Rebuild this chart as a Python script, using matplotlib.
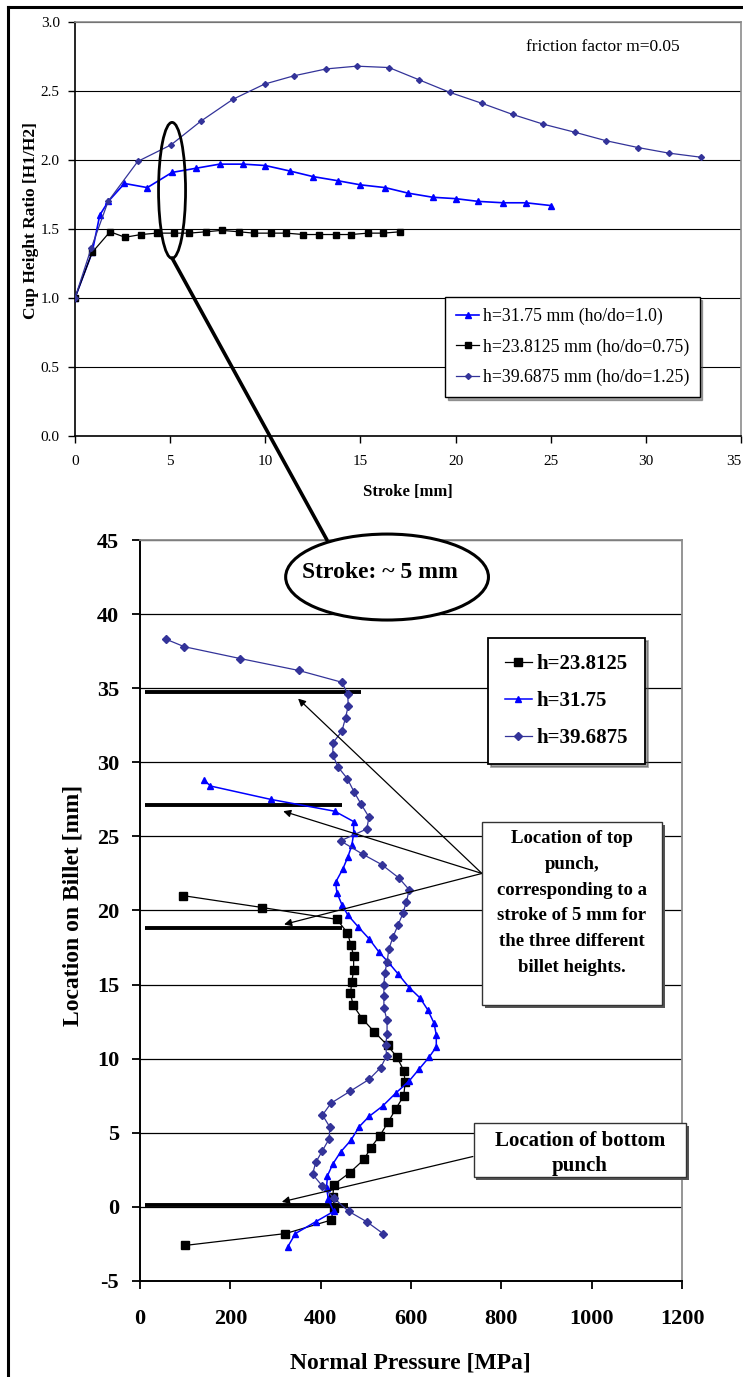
import numpy as np
import matplotlib.pyplot as plt
from matplotlib.patches import Ellipse, Rectangle, ConnectionPatch
from matplotlib.lines import Line2D

plt.rcParams['font.family'] = ['Liberation Serif', 'DejaVu Serif']
plt.rcParams['axes.unicode_minus'] = False

# ---- top chart data: cup height ratio vs stroke (friction factor m=0.05)
stroke_3175 = [0, 0.9, 1.3, 1.75, 2.6, 3.8, 5.1, 6.35, 7.6, 8.85, 10.0, 11.3, 12.5,
               13.8, 15.0, 16.3, 17.5, 18.8, 20.0, 21.2, 22.5, 23.7, 25.0]
ratio_3175 = [1.0, 1.33, 1.6, 1.70, 1.83, 1.80, 1.91, 1.94, 1.97, 1.97, 1.96, 1.92, 1.88,
              1.85, 1.82, 1.80, 1.76, 1.73, 1.72, 1.70, 1.69, 1.69, 1.67]
stroke_238 = [0, 0.9, 1.84, 2.63, 3.47, 4.3, 5.2, 6.0, 6.9, 7.7, 8.6, 9.4, 10.3, 11.1,
              12.0, 12.8, 13.7, 14.5, 15.4, 16.2, 17.1]
ratio_238 = [1.0, 1.33, 1.48, 1.44, 1.46, 1.47, 1.47, 1.47, 1.48, 1.49, 1.48, 1.47, 1.47,
             1.47, 1.46, 1.46, 1.46, 1.46, 1.47, 1.47, 1.48]
stroke_397 = [0, 0.85, 1.74, 3.3, 5.05, 6.6, 8.3, 9.96, 11.5, 13.2, 14.8, 16.5, 18.1,
              19.7, 21.4, 23.0, 24.6, 26.3, 27.9, 29.6, 31.2, 32.9]
ratio_397 = [1.0, 1.36, 1.70, 1.99, 2.11, 2.28, 2.44, 2.55, 2.61, 2.66, 2.68, 2.67, 2.58,
             2.49, 2.41, 2.33, 2.26, 2.20, 2.14, 2.09, 2.05, 2.02]

# ---- bottom chart data: normal pressure along billet at ~5 mm stroke
loc_238 = [21.0, 20.2, 19.4, 18.5, 17.7, 16.9, 16.0, 15.2, 14.4, 13.6, 12.7, 11.8, 10.9,
           10.1, 9.2, 8.4, 7.5, 6.6, 5.7, 4.8, 4.0, 3.2, 2.3, 1.5, 0.7, -0.1, -0.9, -1.8, -2.6]
pres_238 = [96, 271, 436, 459, 467, 473, 473, 469, 466, 472, 492, 519, 548,
            569, 584, 587, 584, 566, 549, 531, 511, 496, 464, 429, 427, 430, 422, 322, 100]
loc_3175 = [28.8, 28.4, 27.5, 26.7, 26.0, 25.2, 24.4, 23.6, 22.8, 21.9, 21.2, 20.4, 19.7,
            18.9, 18.1, 17.2, 16.5, 15.7, 14.8, 14.1, 13.3, 12.4, 11.6, 10.8, 10.1, 9.3,
            8.5, 7.7, 6.8, 6.1, 5.4, 4.5, 3.7, 2.9, 2.1, 1.3, 0.5, -0.3, -1.0, -1.8, -2.7]
pres_3175 = [142, 156, 289, 431, 473, 473, 469, 460, 449, 433, 436, 447, 460,
             483, 507, 529, 550, 572, 596, 620, 637, 651, 656, 656, 640, 618,
             596, 567, 537, 507, 485, 467, 444, 427, 415, 413, 417, 429, 389, 344, 327]
loc_397 = [38.3, 37.8, 37.0, 36.2, 35.4, 34.6, 33.8, 33.0, 32.1, 31.3, 30.5, 29.7, 28.9,
           28.0, 27.2, 26.3, 25.5, 24.7, 23.8, 23.1, 22.2, 21.4, 20.6, 19.8, 19.0, 18.2,
           17.4, 16.5, 15.8, 15.0, 14.2, 13.4, 12.6, 11.7, 10.9, 10.2, 9.4, 8.6, 7.8, 7.0,
           6.2, 5.4, 4.6, 3.8, 3.0, 2.2, 1.4, 0.6, -0.3, -1.0, -1.8]
pres_397 = [58, 98, 222, 351, 447, 460, 461, 455, 447, 427, 427, 438, 459,
            474, 489, 507, 502, 444, 493, 535, 573, 596, 590, 582, 571, 560,
            551, 547, 542, 540, 540, 540, 547, 547, 544, 546, 533, 507, 465, 423,
            404, 420, 419, 404, 389, 382, 404, 429, 462, 502, 538]

# punch positions (location, x start, x end)
punch_loc = [34.75, 27.1, 18.85, 0.15]
punch_x0 = [10, 10, 10, 10]
punch_x1 = [490, 448, 448, 460]

W, H = 743, 1377
fig = plt.figure(figsize=(W / 100, H / 100), dpi=100)

def rect(l, t, r, b):
    return [l / W, 1 - b / H, (r - l) / W, (b - t) / H]

def fpt(x, y):
    return (x / W, 1 - y / H)

DKBLUE = '#333399'
GRAY = '#8c8c8c'

# ================= top chart =================
ax1 = fig.add_axes(rect(75, 22, 741, 436))
ax1.plot(stroke_3175, ratio_3175, color='#0000ff', lw=1.2, marker='^', ms=4.5,
         label='h=31.75 mm (ho/do=1.0)', zorder=4)
ax1.plot(stroke_238, ratio_238, color='black', lw=0.9, marker='s', ms=4,
         label='h=23.8125 mm (ho/do=0.75)', zorder=4)
ax1.plot(stroke_397, ratio_397, color=DKBLUE, lw=0.9, marker='D', ms=3,
         label='h=39.6875 mm (ho/do=1.25)', zorder=4)
ax1.set_xlim(0, 35)
ax1.set_ylim(0, 3)
ax1.set_xticks(np.arange(0, 36, 5))
ax1.set_yticks(np.arange(0, 3.01, 0.5))
ax1.set_yticklabels(['%.1f' % v for v in np.arange(0, 3.01, 0.5)])
ax1.yaxis.grid(True, color='black', lw=0.8)
ax1.set_axisbelow(True)
for s in ['top', 'right']:
    ax1.spines[s].set_color(GRAY)
    ax1.spines[s].set_linewidth(1.2)
for s in ['left', 'bottom']:
    ax1.spines[s].set_linewidth(1.2)
ax1.tick_params(axis='both', direction='out', length=5, width=1, labelsize=11)
ax1.tick_params(axis='y', pad=6)
ax1.tick_params(axis='x', pad=9)
# last tick label sits at the figure edge
ax1.get_xticklabels()[-1].set_horizontalalignment('right')
leg1 = ax1.legend(loc='upper left', bbox_to_anchor=(0.556, 0.336), fontsize=12.8,
                  frameon=True, fancybox=False, shadow=True, borderpad=0.6,
                  labelspacing=0.75, handlelength=1.3, handletextpad=0.2,
                  borderaxespad=0)
leg1.get_frame().set_edgecolor('black')
leg1.get_frame().set_linewidth(1.0)

fig.text(*fpt(603, 47), 'friction factor m=0.05', fontsize=12.5, ha='center', va='center')
fig.text(*fpt(31, 221), 'Cup Height Ratio [H1/H2]', fontsize=12.5, fontweight='bold',
         rotation=90, ha='center', va='center')
fig.text(*fpt(408, 492), 'Stroke [mm]', fontsize=12, fontweight='bold',
         ha='center', va='center')

ax1.add_patch(Ellipse((5.1, 1.78), 1.42, 0.985, fill=False, lw=2.0, color='black', zorder=6))

# ================= bottom chart =================
ax2 = fig.add_axes(rect(140, 540, 682, 1281))
ax2.plot(pres_238, loc_238, color='black', lw=0.9, marker='s', ms=5.5,
         label='h=23.8125', zorder=4)
ax2.plot(pres_3175, loc_3175, color='#0000ff', lw=1.1, marker='^', ms=5,
         label='h=31.75', zorder=4)
ax2.plot(pres_397, loc_397, color=DKBLUE, lw=0.9, marker='D', ms=3.8,
         label='h=39.6875', zorder=4)
for yv, x0, x1 in zip(punch_loc, punch_x0, punch_x1):
    ax2.plot([x0, x1], [yv, yv], color='black', lw=2.8, solid_capstyle='butt', zorder=3)

ax2.set_xlim(0, 1200)
ax2.set_ylim(-5, 45)
ax2.set_xticks(np.arange(0, 1201, 200))
ax2.set_yticks(np.arange(-5, 46, 5))
ax2.yaxis.grid(True, color='black', lw=0.9)
ax2.set_axisbelow(True)
for s in ['top', 'right']:
    ax2.spines[s].set_color(GRAY)
    ax2.spines[s].set_linewidth(1.3)
for s in ['left', 'bottom']:
    ax2.spines[s].set_linewidth(1.4)
ax2.tick_params(axis='both', direction='out', length=6, width=1.3, labelsize=16)
ax2.tick_params(axis='y', pad=9)
ax2.tick_params(axis='x', pad=14)
for lab in ax2.get_xticklabels() + ax2.get_yticklabels():
    lab.set_fontweight('bold')

fig.text(*fpt(410, 1363), 'Normal Pressure [MPa]', fontsize=17, fontweight='bold',
         ha='center', va='center')
fig.text(*fpt(73, 905), 'Location on Billet [mm]', fontsize=17, fontweight='bold',
         rotation=90, ha='center', va='center')

leg2 = ax2.legend(loc='upper left', bbox_to_anchor=(0.642, 0.868),
                  prop={'weight': 'bold', 'size': 15}, frameon=True, fancybox=False,
                  shadow=True, borderpad=0.8, labelspacing=0.8, handlelength=1.3,
                  handletextpad=0.25, borderaxespad=0)
leg2.get_frame().set_edgecolor('black')
leg2.get_frame().set_linewidth(1.3)
leg2.set_zorder(8)

# stroke callout
ax2.add_patch(Ellipse((547, 42.5), 449, 5.8, facecolor='white', edgecolor='black',
                      lw=2.2, clip_on=False, zorder=7))
ax2.text(531, 42.8, 'Stroke: ~ 5 mm', fontsize=17, fontweight='bold', ha='center',
         va='center', zorder=8)
con = ConnectionPatch(xyA=(5.1, 1.29), coordsA=ax1.transData, xyB=(414, 45.0),
                      coordsB=ax2.transData, color='black', lw=2.6, zorder=6)
fig.add_artist(con)

# top punch callout
arrow_kw = dict(arrowstyle='-|>', color='black', lw=0.9, mutation_scale=11,
                shrinkA=0, shrinkB=0)
for tip in [(350, 34.3), (317, 26.7), (319, 19.06)]:
    ax2.annotate('', xy=tip, xytext=(757, 22.5), arrowprops=arrow_kw,
                 annotation_clip=False, zorder=6)
ax2.add_patch(Rectangle((763, 13.4), 399, 12.4, facecolor='#555555', edgecolor='none',
                        clip_on=False, zorder=8))
ax2.add_patch(Rectangle((757, 13.6), 399, 12.4, facecolor='white', edgecolor='#333333',
                        lw=1.0, clip_on=False, zorder=9))
top_lines = ['Location of top', 'punch,', 'corresponding to a',
             'stroke of 5 mm for', 'the three different', 'billet heights.']
for i, t in enumerate(top_lines):
    ax2.text(956, 24.83 - i * 1.73, t, fontsize=13.5, fontweight='bold', ha='center',
             va='center', zorder=10, clip_on=False)

# bottom punch callout
ax2.annotate('', xy=(314, 0.34), xytext=(737, 3.4), arrowprops=arrow_kw,
             annotation_clip=False, zorder=6)
ax2.add_patch(Rectangle((745, 1.8), 470, 3.64, facecolor='#555555', edgecolor='none',
                        clip_on=False, zorder=8))
ax2.add_patch(Rectangle((739, 2.0), 470, 3.64, facecolor='white', edgecolor='#333333',
                        lw=1.0, clip_on=False, zorder=9))
ax2.text(974, 4.43, 'Location of bottom', fontsize=15, fontweight='bold', ha='center',
         va='center', zorder=10, clip_on=False)
ax2.text(974, 2.75, 'punch', fontsize=15, fontweight='bold', ha='center',
         va='center', zorder=10, clip_on=False)

# outer frame
fig.add_artist(Line2D([8 / W, 8 / W], [0, 1 - 7 / H], color='black', lw=2.2,
                      transform=fig.transFigure))
fig.add_artist(Line2D([8 / W, 1], [1 - 7 / H, 1 - 7 / H], color='black', lw=2.2,
                      transform=fig.transFigure))

fig.savefig('out.png', dpi=100)
